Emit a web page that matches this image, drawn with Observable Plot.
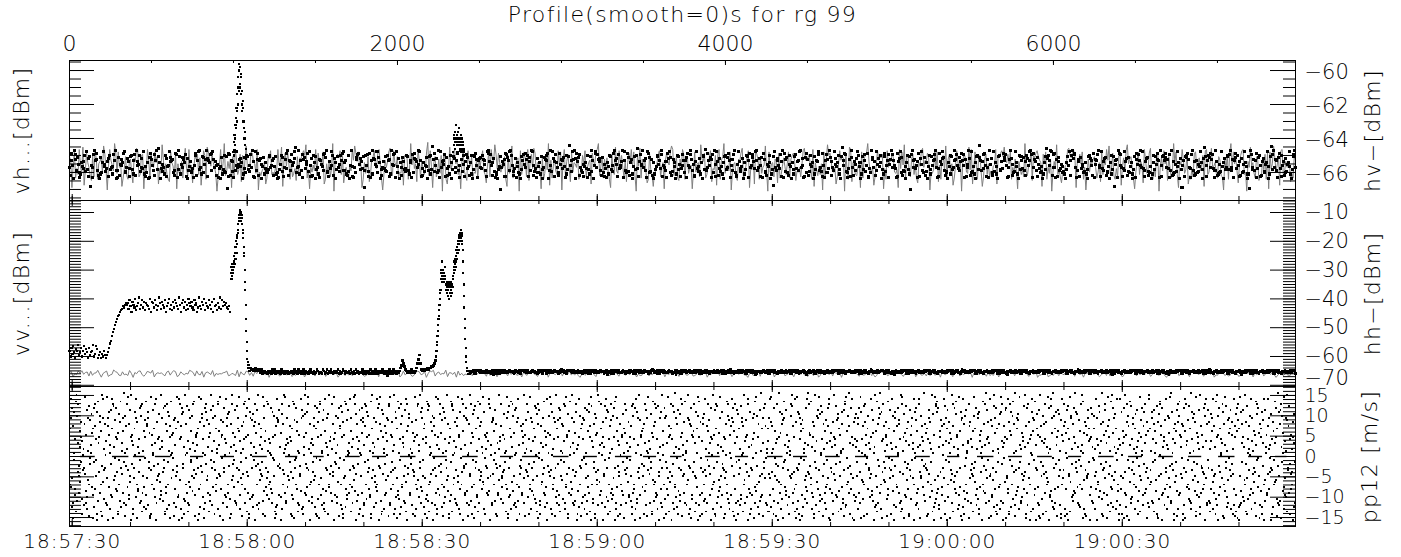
<!DOCTYPE html>
<html><head><meta charset="utf-8">
<script src="https://cdn.jsdelivr.net/npm/d3@7"></script>
<script src="https://cdn.jsdelivr.net/npm/@observablehq/plot@0.6"></script>
<style>
html,body{margin:0;padding:0;background:#fff;overflow:hidden;}
#chart{position:relative;width:1401px;height:557px;}
#chart svg{position:absolute;left:0;overflow:visible;background:transparent;max-width:none;}
#chart g[aria-label="text"] text{letter-spacing:1.3px;}
#p3 g[aria-label="x-axis tick label"] text{letter-spacing:1px;}
</style></head><body><div id="chart"></div>
<script>
// ---------------- axis / tick data ----------------
const titleText = "Profile(smooth=0)s for rg 99";
const profileMax = 7476;                       // profile index at the right edge
const profileTickLabels = [0, 2000, 4000, 6000];
const timeTickLabels = ["18:57:30","18:58:00","18:58:30","18:59:00","18:59:30","19:00:00","19:00:30"];
const profileAtFirstTimeTick = 16.5;           // profile index at 18:57:30
const profilesPerSecond = 35.574;
const topTicks = [-66, -64, -62, -60];
const midTicks = [-60, -50, -40, -30, -20, -10];
const midLowTick = [-70];
const botTicks = [15, 10, 5, 0, -5, -10, -15];
const labels = {vh: "vh...[dBm]", hv: "hv\u2212[dBm]", vv: "vv...[dBm]", hh: "hh\u2212[dBm]", pp: "pp12 [m/s]"};

// ---------------- series values (one code char per sample; value = lo + index*step) ----------------
const ALPH = "0123456789abcdefghijklmnopqrstuvwxyzABCDEFGHIJKLMNOPQRSTUVWXYZ";
const PP_ALPH = "abc0defg1hij2klmn3opq4rst5uvwxyz6ABCDEFG7HIJKLMNO8PQRSTU9VWXYZ";

// top panel: vh (black dots), lo -67.0 step 0.065
const vhTopCodes = [
"kdqxmazrwhtnfbeoljpvgyicsu3mbkwzqrxhdaetfoynlgjpscvikelwqzahbtdnmroxygfkspjcuvieqwdzm",
"pnvgksjyeclfoabtxrmhwdqziuBoajgnkevsclmytpqrfhdxwbizuenktrowcsahlpgfjbmxvdqyzikeuftnr",
"zscqowhxyrkpmdnbjalteigvfu1xcwdqgpbzhmyknrlsoaetjfvuigmwkzcpbyhrxdqsnalteojgfiuvkmqsd",
"lueafbinvtgckrxjzdqhpwmosyCfklzeqhbwrtjnpxgymcsdvoauikebrqnlhwxtzgfcpjmyvdsoaiukgnvqx",
"yhoqedvgamzclbkftrwxnsipju2hvmwcgxbqezsrnlyftoaidkpjuhgvqcreznwmxbylfsaokdtpijgvuheqo",
"bwfxsrpkznyqcjdogmltahueviDrxgmsfhzbykpqnwctdjlevaoiusfkqxhmbzrgnycpwtjldoevaiuxrmbqs",
"tkjvrnqhcyxzpwmodsgbfeailu0kpnrcxwtqhyzvmgdjsbolfeaiuqwnxkrvctphzydmgjbsfloeuaiktrqvx",
"ahmzgyscpwokdfxnrjqtlbeviuEmgqyrzsaxptwdkhfcnlojbvieugzqamxykwrsphdtfcnjbolevuimgxzq",
"sncwjkmpzbqyhfxgtdoraeluivBjcpwmnzkqhsbyxftgrdaoeiluvnqjzwcmkhpbxsytfdgrolaeviuncjwmq",
"fqbtxmkwzrhncdpyjlgseoavuiAhxkqmtbrwfzncypdjsgleaouvitkxqbmrhwzfdcnypgjlsaoeivubqxkmt",
"wpjyqzhksmctbxrfgdnlvoaeiu4ykhqsmjwcpzbxrgtfdnvlaoeiuwjpqhyzkmsbctxfrdgnvloaeuiqpwyhk",
"gcxmbqwfrjztpdkhysnloveiauCqmxwgbfjrcztkdphnsyvloaeuiwqgmxbcjfzrtkpdhynslvoaieuxgmqbw",
"nrzwkqmjbxcpsytfdhgalovieu0wzkqrjmbpxcsnyhftdgoalveiumqwrzkbjcxpnsythdfgaolevuikqzrwm",
"jhtpxqwmbrcknzsdfygleoauviEtqhpwjxmckrbznsfdygoleauvihpjxtqwmbkcrzsndfgyloeaviuqjthp",
"dvsmyqzwbkxrphctnjflgaeoiuBsvqmzydwkxbrcpthjnflgeaoiumydqvzswxkbhrpctjnlfgoeiauvsmqd",
"xbnrqwzkmcyjphstdgflaoeviu3nqrbzxwmkcjyhpsdtgfloaeiubxrnwqzmkyjchpstgdflaevoiunrxqbz",
"cmuvqtxkrjwbhzdpefngyloasi2mqcutvxrkjbwzhdpeqfnglyoiasCumcqvtxkrwjbhzpdefngyloasikuv",
"iwzkhrbqxtjvmcpdsfgnyolaeu1zwkirhqbxjtvcmdpsgfnoylaeuDwizkrhqbtxjcvmpdsfgnolyeaiuwzk"
];
// top panel: the two vh bursts (profiles 1000-1080 and 2340-2405), lo -67.4 step 0.2
const vhPeak1Codes = "dgcifhlnkq mupwzrBvDx CwAuzrvpsm qkmhjfhceb c";
const vhPeak2Codes = "dfhigjelhg fidhjgkfeh gidfhegfdc e";
// top panel: hv (gray line), lo -67.1 step 0.07
const hvTopCodes = [
"tq3mxbjezlfB5hwokd9ucyranpsgCvi1lzqmhEwfxko4bjtdanrg7spAyceuv2mhzqbwlkxot6jfDrdnea8",
"xolcw2nfgpbqAjdzhm7ktrves5iyuaBxqlwokf0cmzgnEdhpjr3tbyseiv8uaqCkmlxwonfz1gdhjp6btrye",
"gdkhzmpB4qwlxnaocfj9tesrvyuDbi2kgmhzdwpqlx6anfocjE0rtvsyeu7gkdbmhzqCwpxln3aofjt8ersy",
"mjwznb1eqkpxAhdyoltcgfr5uvsaiEmwjn8zqbpkehxFdyl3otcgrfu0vsa6iBjmwznqek2pxhd9yoltcgfr",
"bqlsyhe7mxczrpDvjwognkta4ufiCbhlqs0yemxrcz9pvjAwgonk2tafuiE5qblsheymx1rzcpvj8wgonkta",
"fhunyckoq6wpmxzEdltbrjsga3vieBhfynukcq8owpzmxd0tlAbrjsg7avie4fhnuycko2qwpmxCzdltb9rj",
"zvaqtfkm2hxgnocDrpwbelsy8jiu5vzaqtEfkmhx1gnoc9rpwAbelsy3jiu6zvqatfkmCh0xgnocrp7wbels",
"lenxbruwp9hgkcmyAqtsvjaz4oidlen1xbrDuwphgk6cmyqts0vjaBz8oiedln3xbruwEphgk5cmyqtsv2ja",
"ykqpwsgfi3zjxmDatuhcrvenb7olyAkqpws1gfizjx8matuhCcrven5blyokq0pwsgfBiz6jxmatuh4crven",
"chdlmz6uswytBqovnxakfrg2pjeicEhdlmz9uswytqo4vnxakfr0gpjDeic7hdlmzAuswyt3qovnxak1frgp",
"nrtkbgo8xepmzqCfiwdajcuv5lshyDnrtkb2goxepm7zqfiwAdajcuv0lshynr9tkbgEoxe3pmzqfiw6dajc",
"wxjnshmu4yzegpAklofbtqdc1rivawEjxnsh7muyzeg0pkBlofbtq9dcrivaw2xjnCshmu5yzegpklo8fbtq"
];

// middle panel: vv (black dots) in five stretches
const vvACodes = "hdjfkgcihl egjdhkfigc jeghldfkic egcfdhec egjmoruwzB DFGIJKMLNO N" +
  " OKQMIPNLRJ MOSKNQLPJO NMKRIPOLQN JMSOKPNLQI MORKNJPLQO MKSNIOQLPJ NKROMPLJQN OILSMKPNRJ OMLQNKPIRM NJOLSKQMPN OLKMI"; // lo -66.5 step 0.5, profiles 0-978
const vvHi1Codes = "DFBECGDEF HJGKMI MOKPNQSUR VXWYZXWYVXUW SPRMJKEAx snjfc9 87676565";           // lo -70 step 1, profiles 984-1100
const vvBCodes = "5443453443 " +
  "2413322132 3142413223 1432132312 2331423142 3124132213 4213124312 2143124132 4213232413 1243132231 4213142312 2413123314 1321421332 2431230241 31423132" +
  " 357a864 323234232 358be84 3434454556678a";                                              // lo -66.5 step 0.5, profiles 1104-2232
const vvHi2Codes = "acefhjlnoqsuwx DBEACHDBECADFBCz zxAwyvzxuyAwyzvxAywzBy CFDHEGIFH JLIMKNOLPNQORPSQROQ NLHDzvrnkgda8656 5455454"; // lo -70 step 1, profiles 2236-2440
const vvCCodes = [
"hqmzcwbrxtkdvnfjpgylseoiau5qhzbmxcrwtdkvfnjgpylsoeaiumqhzcbwrxktdnvfjgpylosieauhmqz",
"bxrwkctdnvjfgpylsoaeiuAqzhmbcxwrtkdnvfjpgylseoaiuqhmzbxcrwktdvnjfgpylosaeiu2hqmzbxcw",
"tnkdvfgjpyslaoeiuhzqmbwcxrktdvnfgjypslaoeiuBzhqmbwxcrtkdvnfgjpylsoaeiu3zqhmbwcxrktdn",
"lsyjpgfvndktrcxwbmqhzuieoaslpjygfnvdkrtxcwmbhqzuiAeosaljpgyfvndtkrcxbwmqzhuieo1aslpj",
"gfnvkdrtxcbwmzqhuieaosljypgnfvdkrtcxbwmqzhuiaoeslyjpg4fnvdkrtxcbmwqzhuieoasljypgfnvd",
"ktrxwcbmzhqueiaoslypjgnfdvktrxcwbmhqzuieaosCyljpgnfvdkrtxwcbmzhqueiaos2lyjpgnfvdktrx",
"cwmbzqhuieoaslyjpgfndvkrtxcwbmqzhueiaoslpyjgnfdvktrxcwbmhqzueiaoAslyjpgfndvkrtxwcbmz",
"qhueiaoslyjpgnfvdktrxcwbmzhquieao3slyjpgfnvdkrtxcbwmzqhueiaoslyjpgnfvdktrxcwbmzqhuie",
"aoslyjpgnfdvkrtxcwbmqzhuieaoslBjypgnfvdktrxcwbmzqhueiaoslyjpgnfvdkrtxc1wbmzqhuieaosl",
"yjpgnfvdktrxcwbmzqhuieaoslyjpgnfvdkrtxcwbmqzhuieaos4lyjpgnfdvktrxcwbmzqhuieaoslyjpgn",
"fvdkrtxcwbmzqhAuieaoslyjpgnfvdktrxcwbmzqhuieaoslyjp2gnfvdkrtxcwbmzqhuieaoslyjpgnfvdk",
"trxcwbmzqhuieaoslyjpgnfvdkrtxc"
];                                                                                           // lo -66.4 step 0.05, profiles 2446-7476
// middle panel: hh (gray line), lo -67.24 step 0.064
const hhMidCodes = [
"pw3kfzmAhqt7xbnoCj1lsy5dgEvrc9ueiaBm0qkxzh6fwtnD2jplog8sycrAv4bukemiCxq7zhdw1otnfB5lgkjp",
"ry9cmhaD3uiexvbq6wkzEtlfo0njspg8dyAcrm4hbuqiC2exwvk7znftB5lojsgp1dymarcD9hiuxqe6bkwzvnE3",
"tlfo8jspgnA2cydmrh5bqxueiw0kzvC7ntfljD4pogs1ycmaherB9xqiuwvk6zbnEt3lfojp8sgyAdcm2rhbxq",
"uie5wkvzC1ntlfojB7spgydmcra0hxbqiuDe4wvkztnf9lAoj6spgcydrEm2habxuq8iewkCvzt3nflojBp5sg",
"ydcmr7ahxbqDu1iewvkz9tnfAlo4jspgCydc0mrahbE6xquiewv2kztnB8floj3spDgydc5mrahA1bxqiuew7v",
"kzt0nflCojspg6ydcmrEah2bxquiw9evkBztnf5lojspD3gydcm8rahAbxq1uiewvk4ztC7nflojs0pgydEcm6r",
"ahbxq2uiDewvkz8tnflBoj5spgy0dcmrC3ahbxq9uiewAvkz6tnfl1ojEspgyd4cmraB7hbxqui2ewDvkzt8nfl",
"ojsp5gCydcmra0hbxquE9iewvk3ztnAflo6jspgy1dcBmrah8bxqui4ewvCkzt2nfloD7jspgyd0cmrahE5bxqu"
];

// bottom panel: pp12 (black dots), codes in PP_ALPH order, lo -15.555 step 0.51
const pp12Codes = [
"aK3nW8fTq1 LbR6xGm2Vd YhP9sE4kuJ oC7wNi0Ftz Bg5MrX1lHe SjA8pU3cvO yD6QnI2bKw fT9Lm4GxRa 0VhE7sNkPd J3uYc8WoBi",
"tM5zF1gXqL a8RnH6eDvS 2KjW9bUpC4 yOm7TlGs0I dQx3NhV5fA rE8kJw1ZcP 6gLu9BnXt2 MiS4oYa7Hv F0eDq5KzRj 8WbN3lCmG6",
"sTx1PhU9dk A4nJf7OyVe 2LqM8gRw5I bc0XtD3HzS 6uKm9EjaW1 pNvG4rQ7oB iY2lC8FshT 5xUd0kMnJ9 eRw3AgPbL7 zVq6HtIy1c",
"O8mDfK4sXu jN2WaG9pLe 7TbQ5vRi0C hYz3MkU6Fd 1gSo8nBxJw 4PlE9tVqA2 cHr7IyD5Ka m0XfN3uWs8 QjG6bLe1Tz R9vOp4CkM7",
"dIh2YxS5gA nU8Fw0Pt3K lB6qVe9JrD c4XmO7Hy1N aT5sGz2WjE 8fLk3QuR6b iM0Cp9YvI4 xnD7Sh1Ag5 UoK8JtX2eF w6qLc3BrN9",
"Gm1VyP7dTs 4HkWb0Ri8E zO5jQf2LxC 9aNu6IgS3v YeM1tDp7Kr B4wXh0Ul8F cJ5nq2VsA9 G3ioE6zTm1 kRy7Px4dHb 0LfW8gNuO2",
"SvC5jaI9Qe 3MtYr6XkB1 hD8GnE4zpU 7wLs0Fc2Kq iV9bO5xTy3 NmJ1dA6gHr 4uWl8SeP0f Cz7QkY2Iv5 RnX9tBh3Ma 6oEj1GwDs8",
"Lp4UfK0ycT 7NiR3bVx9H q2Ag6OmSe1 JdW5lE8tCz 0QnY3rF7uk B9hMs4XaG2 Iw6vP1jD8o Tc5LyK3gUe 7RbN0qHx4V f9mOi2SzA6",
"kE3WtJ8dCn 1GuX5pYl9Q ar7MhB2vF0 S6eOz4ITk8 NcD1gL9wU3 iR7xPs5HmA 2jVb0KqY6t E8fC4oNn1W l3GyT9uaM5 XhJ0dS7rQe",
"B6vL2kIp8F zO4cU9Xg1s Hm7NwA3tD0 Ye5Rj8qKb2 VlT6iG0xM9 f3PnE7Ch4u S1dWo9Ja5L rQ8zk2Byv6 NgI0tF4sX7 cOe3HmU9pD",
"jA5wY1nRlT 8Gx4KfM0qE i7bV2Sh9Ud 3oCz6NrJ1P ta8Ly5HgX4 kD0eW7mBu2 Q9sIv3OfT6 c1RnG8jAx5 Yp4Ml0EbK7 hV2wU9dSz3",
"Fq6iN1tCg8 LoX4eH7mR0 yB3Ws9aJu5 Pk2DvT8lO1 zc6MgY4rE9 hI0nQx7Sb3 Uf5KwA2jV8 dt1GpL9sN4 Cm6Xo3eR0y H7uBk5Iq2F",
"lW9aT4Dz1g N8rO3xJh6S v0Mc5Ek2Yp Bu7Fi9Lq4n Hs1QtG6wA3 dX8mR0bU5j K2yVe7oC9l P4gIz1Sf6T a3NhW8nD0r u5LxJ2kE7M",
"Yq1Hc6OtB9 s4RjG0vX3m Ae8Nl5Fp2K wi7Uz1Td4Q b9My6Sg0hE L3ox8CrV5k J2fD7nW1aI u6PsX4Ht9e Rz0Bm3Gq8c N5jYl1Kv7O",
"gT2dS8Ax4M p6Li9Fw1Ue Xn3Hr7Qb0J k5VzC2oY8m E1tNg6Ih4R s9Ba0Dl7Wf P3uKc5Mx1j G8yOe2Tv6q S0hJn4Rk9L d7XaU3Fi1C",
"wM5bQ0sH8p I3gYt6Vo2D lK9Ez1Na7r C4xUf8Wj5S h0Ry3Gd6Lk O9mBi2Pq7T a5Ve1Xn8Jc Fu4Ds0Mz3g Hl7Qw2Kb6I t9Sr1Ey5Ao",
"N2jC7xLh4f U0Pk9Gm3Ta e6Wi1Rs8Dq Y5bO2zH7vJ n4Ku0Ml9Eg S3cA8tX6yF r1Bw5Qd0Ip V7hL3oN9jT k2Ge6Ua4sC x8Rm1Yf5Dz",
"Jb3Ti8Pw0m E5qX2Ld7Hs o9Ka4Gv1Ue R6nZ3jC8yM f0Sl5Bh2Qt W7cI9zD4rN k1Vx6Ag3Fp Y8uO0Me5Tb L2iH7sJ9wE d4Rq1Kn6Xa",
"P7gVc2Ny5k F0sM8Qh3Wt i4Bd1Lx9Ju O6rE2aT7zG m3Ye5Ho0Sc K9wU1jD6pI l8Xn4Cf2Rv A5tb7Gq0Ms z3Vk9Pi1Oe H6yL2uW8dN",
"Tc4Jm9Ea1w S7hQ0xKr5B g2Ui8Nz6Ld Y3pF1Ov7Hs j9Wa4Cm0Rk e5Dt2Gy8Qb I1nV6Xl3Pu f7Mo0Sh4Aj Z2rK8cE5wT q9Ly1Bg6Fd",
"Kd8rWq2NfXs6LmB0hTy4JcEv9pGu1aZo7RkIe3MiQ5bOw8VxDn2SlH6gCt0FjA4zPq9UrY1kLs7mWd3NbXe",
"5hRtQ0vGa8JyMc2OfKx6BpEi4TnWl1DsZr9IuHq3VkCe7NjLb0YwAg5FoPm8SdXt2QhUz6GiRc4MvBk1JnOe",
"Ex3LqTb9WmFa5IsCk0NhYr7GpDv2UjOz8QdKl4HwAe6RnMi1BtSc9VfXg3JyPo5LkZu0EmTr7WbDq2NaGh8C",
"jQ4FwMe8TkAs1XbRp6GoLi3UcNz9HvDy0KmPt5EqBj7WrSl2IhOa6CfYg4JdVn1MxTu8QkZe3RbFs9GwLp5A",
"oN7HiDc2VmKy5SqEt0BxWl4PgJa8RuCf3LnTz6MkOs1GdYh9XeAr7QbIw2FjUp5KvNm0DcSt4HiLx8EqBa3W",
"yR6OgTk1JmCe9WsDb4PqLx7FnAu2ZhMv5IcKt0GoSr8EjNw3BlYd6QfHa1XpUi9RkVm4TgCe7JsOb2LnDz5W",
"Mq0UhFx8KaSj3EwNb6IpGt1YrLd9CoTm4VkQs7HeBz2XgJn5RcOa8WfDl0MiPu3SyAk6FhEb9LqNt1GvCr4J",
"dX5PoKw2TgBm8QiRe0HnFs6JaCy3VlMu9DkZt1SqGx7NhEb4WrOc2LjAp5YfUm8IdTs0KgBw6MnQe3RhXv9F",
"Ca1LyEo7SbTq4GmWk0NdJx9RfHu3PiVs6MgZc2AtKl8QnOe5XwDh1BrIj7FpUm4YsCb0LkTg9EqNv3GaHd6W",
"Rz8JeOx2VmDa5KtQn1HcSg7YbLw4FiPu0MrEk9GdNs3CqXo6TaBj2WlUh8IfZy5PeKm1RvDc7SnJx4QgAt0O",
"bH3WqFt9LcNe6ImSy0UaKr4GdXo8PvBj2MhTl7ZkEw5RsQn1CgOx3JfAu9DmYb6VpIe0NtLc4HqSr8FwKa2G",
"nT7QhCy1KxPe4BmWs8GaDo3UjRl6MvFi0ZcNt5HkSq9JwEb2XgLr7OdAu1VnYm4IfTp8CsQe6KhWx3BlGa0D",
"gW4mRz0JqEb7TkYs2HfNc9PxLa5VoDi1UjGt8MwBr3KeQn6SyCh0FlIu4XdOp7AzTg2LvRk9EmHs5NbJq1W",
"Yf3KtAo8RhGw1MdSx6JpEl0UcNb4QiVz9HrLa2TyCk7FgOm5WsDe3PjBq8IuXn1ZhRv6GtKa0MoEw4JlSc9N",
"eP2VkHr7CqMy0LaTg5WbJs9DnFx3OiUm6KhZe1RtGp8AwQl4NcXd2IvEo7SjBf0YkLu5HmCs3TrPa9FqWg1M",
"Sx5NhBd1QmFt8JeWo4LkCr0ViYg7PaHu2TnKs6GzEq9RcMb3XlDw5UfAj1OpIy8KtSe4HvNr0BmWg7LcQd2J",
"Tb9OaKf4XgRl1EwMj7ShCp3YvNd0UqGi6LtBz2PmWe8FkAr5JoHs1VcDx9QnTy4IbMg7KlRf0EuOa3WpSh6C",
"Hk2WrLm8ByDs5QaGt0NfJx3VoEp7TcKi1ZuRg4MhSb9CwPl6IeXn2FqAj8OdYt5LkUv0GmHr3BsNa7EfQw1J"
];
// bottom panel: stretches where pp12 is exactly 0 (start profile, length in profiles)
const pp12ZeroStart = [67,262,390,524,738,921,1116,1317,1488,1683,1848,2018,2214,2397,2628,2762,2951,3134,3329,3500,3665,3878,4061,4256,4415,4610,4793,4976,5159,5354,5537,5726,5903,6092,6275,6458,6641,6824,7007,7190,7354];
const pp12ZeroLen   = [90,100,70,95,80,85,90,75,65,90,85,95,90,95,80,100,95,85,100,80,70,90,80,95,85,90,80,85,90,75,100,85,90,80,95,85,90,80,100,85,70];

// ---------------- decoding ----------------
function decode(codes, lo, step, alph = ALPH) {
  const s = (Array.isArray(codes) ? codes.join("") : codes).replace(/\s+/g, "");
  return [...s].map(c => lo + alph.indexOf(c) * step);
}
function series(codes, lo, step, p0, p1, alph = ALPH) {
  const v = decode(codes, lo, step, alph), n = v.length;
  return v.map((y, i) => ({p: p0 + (p1 - p0) * i / (n - 1), v: y}));
}
const vhTopBand = series(vhTopCodes, -67.0, 0.065, 0, profileMax);
const vhBursts = series(vhPeak1Codes, -67.4, 0.2, 1000, 1080).concat(series(vhPeak2Codes, -67.4, 0.2, 2340, 2405));
const hvTop = series(hvTopCodes, -67.1, 0.07, 0, profileMax);
const vvEvents = series(vvACodes, -66.5, 0.5, 0, 978)
  .concat(series(vvHi1Codes, -70, 1, 984, 1100))
  .concat(series(vvHi2Codes, -70, 1, 2236, 2440));
const vvBase = series(vvBCodes, -66.5, 0.5, 1104, 2232)
  .concat(series(vvCCodes, -66.4, 0.05, 2446, profileMax));
const hhMid = series(hhMidCodes, -67.24, 0.064, 0, profileMax);
const pp12 = series(pp12Codes, -15.555, 0.51, 0, profileMax, PP_ALPH);
const pp12Zero = pp12ZeroStart.map((s, i) => ({p1: s, p2: s + pp12ZeroLen[i], v: 0}));

// ---------------- layout ----------------
const W = 1401, ML = 69, MR = 106, FW = W - ML - MR;
const GRAY = "#7f7f7f";
const FONT = "font-family:'DejaVu Sans',sans-serif;font-size:21px;font-weight:200;overflow:visible;background:transparent;";
const timeMajor = timeTickLabels.map((_, i) => profileAtFirstTimeTick + i * 30 * profilesPerSecond);
const timeMinor = d3.range(0, 240, 10).map(s => profileAtFirstTimeTick + s * profilesPerSecond).filter(p => p <= profileMax);
const timeLabelOf = new Map(timeMajor.map((p, i) => [p, timeTickLabels[i]]));
const profMinor = d3.range(0, profileMax, 500);

function ticksX(values, len, edge, PH) {
  return Plot.tickX(values, {x: d => d, stroke: "black", strokeWidth: 1,
    insetTop: edge === "bottom" ? PH - len : 0, insetBottom: edge === "top" ? PH - len : 0});
}
function ticksY(values, len, side) {
  return Plot.tickY(values, {y: d => d, stroke: "black", strokeWidth: 1,
    insetLeft: side === "right" ? FW - len : 0, insetRight: side === "left" ? FW - len : 0});
}
function yTickSet(major, minor) {
  return [ticksY(minor, 12, "left"), ticksY(minor, 12, "right"), ticksY(major, 25, "left"), ticksY(major, 25, "right")];
}
function sideLabel(text, side, dx) {
  return Plot.text([text], {text: d => d, frameAnchor: side, dx, rotate: -90, textAnchor: "middle", lineAnchor: "middle", fontSize: 22, fill: "black"});
}
function dots(data, r) {
  return Plot.dot(data, {x: "p", y: "v", symbol: "square", r, fill: "black", shapeRendering: "crispEdges"});
}
const chart = document.getElementById("chart");
function place(svg, top, id) { svg.style.top = top + "px"; svg.id = id; chart.appendChild(svg); }

// top panel
const H1 = 200, PH1 = 140;
place(Plot.plot({
  width: W, height: H1, marginLeft: ML, marginRight: MR, marginTop: 60, marginBottom: 0, style: FONT,
  x: {domain: [0, profileMax], axis: null, label: null},
  y: {domain: [-67.65, -59.41], axis: null, label: null},
  marks: [
    Plot.line(hvTop, {x: "p", y: "v", stroke: GRAY, strokeWidth: 1}),
    dots(vhTopBand, 1.7),
    dots(vhBursts, 1.2),
    Plot.frame({stroke: "black", strokeWidth: 1}),
    ticksX(profMinor, 3, "top", PH1), ticksX(profileTickLabels, 5, "top", PH1),
    ticksX(timeMinor, 4, "bottom", PH1), ticksX(timeMajor, 6, "bottom", PH1),
    ...yTickSet(topTicks, d3.range(-67.5, -59.4, 0.5)),
    Plot.axisX({anchor: "top", ticks: profileTickLabels, tickSize: 0, tickPadding: 10, tickFormat: d => String(d), fontSize: 22, label: null}),
    Plot.axisY({anchor: "right", ticks: topTicks, tickSize: 0, tickPadding: 9, fontSize: 21, label: null, dy: 2}),
    Plot.text([titleText], {text: d => d, frameAnchor: "top", dy: -46, lineAnchor: "middle", textAnchor: "middle", fontSize: 22, fill: "black"}),
    sideLabel(labels.vh, "left", -48),
    sideLabel(labels.hv, "right", 77)
  ]
}), 0, "p1");

// middle panel
const H2 = 186, PH2 = 186;
place(Plot.plot({
  width: W, height: H2, marginLeft: ML, marginRight: MR, marginTop: 0, marginBottom: 0, style: FONT,
  x: {domain: [0, profileMax], axis: null, label: null},
  y: {domain: [-70.42, -5.83], axis: null, label: null},
  marks: [
    Plot.line(hhMid, {x: "p", y: "v", stroke: GRAY, strokeWidth: 1}),
    dots(vvBase, 1.55),
    dots(vvEvents, 1.2),
    Plot.frame({stroke: "black", strokeWidth: 1}),
    ticksX(timeMinor, 4, "top", PH2), ticksX(timeMajor, 6, "top", PH2),
    ticksX(timeMinor, 4, "bottom", PH2), ticksX(timeMajor, 6, "bottom", PH2),
    ...yTickSet(midTicks.concat(midLowTick), d3.range(-70, -5, 1)),
    Plot.axisY({anchor: "right", ticks: midTicks, tickSize: 0, tickPadding: 9, fontSize: 21, label: null}),
    Plot.axisY({anchor: "right", ticks: midLowTick, tickSize: 0, tickPadding: 9, fontSize: 21, label: null, dy: -7}),
    sideLabel(labels.vv, "left", -48),
    sideLabel(labels.hh, "right", 77)
  ]
}), 200, "p2");

// bottom panel
const H3 = 171, PH3 = 140;
place(Plot.plot({
  width: W, height: H3, marginLeft: ML, marginRight: MR, marginTop: 0, marginBottom: 31, style: FONT,
  x: {domain: [0, profileMax], axis: null, label: null},
  y: {domain: [-17.2, 17.2], axis: null, label: null},
  marks: [
    dots(pp12, 1.1),
    Plot.ruleY(pp12Zero, {x1: "p1", x2: "p2", y: "v", stroke: "black", strokeWidth: 1.4}),
    Plot.frame({stroke: "black", strokeWidth: 1}),
    ticksX(timeMinor, 4, "top", PH3), ticksX(timeMajor, 6, "top", PH3),
    ticksX(timeMinor, 4, "bottom", PH3), ticksX(timeMajor, 7, "bottom", PH3),
    ...yTickSet(botTicks, d3.range(-17, 18, 1)),
    Plot.axisY({anchor: "right", ticks: botTicks, tickSize: 0, tickPadding: 9, fontSize: 19, label: null}),
    Plot.axisX({anchor: "bottom", ticks: timeMajor, tickSize: 0, tickPadding: 7, tickFormat: d => timeLabelOf.get(d), fontSize: 20, label: null}),
    sideLabel(labels.pp, "right", 74)
  ]
}), 386, "p3");
</script></body></html>
